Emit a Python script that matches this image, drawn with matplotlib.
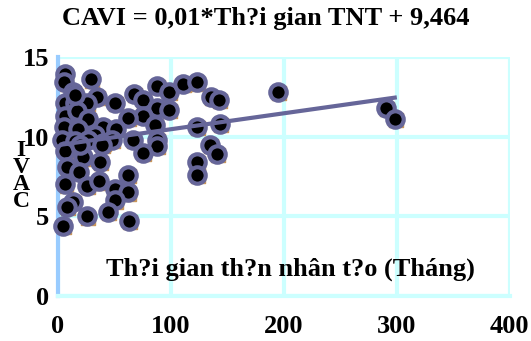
import numpy as np
import matplotlib
matplotlib.use('Agg')
import matplotlib.pyplot as plt

# Thoi gian than nhan tao (thang) vs CAVI
months = [6.2, 5.3, 29.2, 13.3, 34.5, 6.2, 15.0, 25.7, 50.4, 67.3,
          75.2, 87.6, 98.2, 110.6, 123.0, 135.4, 142.5, 87.6, 98.2, 75.2,
          61.9, 6.2, 16.8, 26.5, 39.8, 51.3, 85.8, 123.0, 143.4, 5.3,
          17.7, 32.7, 3.5, 15.0, 26.5, 39.8, 47.8, 66.4, 87.6, 87.6,
          75.2, 134.5, 140.7, 6.2, 22.1, 37.2, 8.0, 18.6, 123.0, 123.0,
          61.9, 6.2, 25.7, 36.3, 50.4, 61.9, 50.4, 13.3, 8.0, 25.7,
          44.2, 62.8, 4.4, 194.7, 290.3, 298.2, 19.5, 38.9, 15.0]
cavi = [13.9, 13.4, 13.6, 12.8, 12.5, 12.1, 12.1, 12.1, 12.1, 12.7,
        12.3, 13.2, 12.8, 13.3, 13.4, 12.5, 12.3, 11.8, 11.7, 11.3,
        11.2, 11.3, 11.6, 11.1, 10.6, 10.5, 10.7, 10.6, 10.8, 10.6,
        10.5, 10.1, 9.8, 9.7, 9.8, 9.6, 9.8, 9.8, 9.8, 9.4,
        9.0, 9.5, 8.9, 9.1, 8.7, 8.4, 8.1, 7.8, 8.4, 7.6,
        7.6, 7.0, 6.9, 7.2, 6.7, 6.5, 6.0, 5.9, 5.6, 5.0,
        5.3, 4.7, 4.4, 12.8, 11.8, 11.1, 9.5, 9.5, 12.6]

# fitted line from the title
slope = 0.01
intercept = 9.464
x_ticks = [0, 100, 200, 300, 400]
y_ticks = [0, 5, 10, 15]

font = 'Liberation Serif'

fig = plt.figure(figsize=(5.31, 3.41), dpi=100)
ax = fig.add_axes([0.109, 0.132, 0.851, 0.701])

ax.set_xlim(0, 400)
ax.set_ylim(0, 15)
ax.set_xticks(x_ticks)
ax.set_yticks(y_ticks)
ax.grid(True, color='#ccffff', linewidth=3)
ax.set_axisbelow(True)
for side in ['top', 'right']:
    ax.spines[side].set_visible(False)
ax.spines['left'].set_color('#99ccff')
ax.spines['left'].set_linewidth(3)
ax.spines['bottom'].set_color('#ccffff')
ax.spines['bottom'].set_linewidth(3)
ax.tick_params(length=0, pad=6)
ax.tick_params(axis='x', pad=14)
for lab in ax.get_xticklabels() + ax.get_yticklabels():
    lab.set_fontfamily(font)
    lab.set_fontweight('bold')
    lab.set_fontsize(19)

# points: tan square artefact behind a black dot with slate edge
ax.scatter(np.array(months) + 0.8, np.array(cavi) - 0.08, marker='s', s=110,
           color='#c8965a', zorder=2, clip_on=False)
ax.scatter(months, cavi, s=140, color='black', edgecolors='#666699',
           linewidths=3, zorder=3, clip_on=False)

# trend line
xs = np.array([min(months), max(months)])
ax.plot(xs, slope * xs + intercept, color='#666699', linewidth=3, zorder=4)

fig.text(0.5, 0.947, 'CAVI = 0,01*Th?i gian TNT + 9,464', ha='center',
         va='center', fontfamily=font, fontweight='bold', fontsize=19)
ax.text(0.515, 0.11, 'Th?i gian th?n nhân t?o (Tháng)', transform=ax.transAxes,
        ha='center', va='center', fontfamily=font, fontweight='bold',
        fontsize=19, zorder=5)
fig.text(0.04, 0.485, 'I\nV\nA\nC', ha='center', va='center',
         fontfamily=font, fontweight='bold', fontsize=17, linespacing=0.75)

fig.savefig('out.png', dpi=100)
